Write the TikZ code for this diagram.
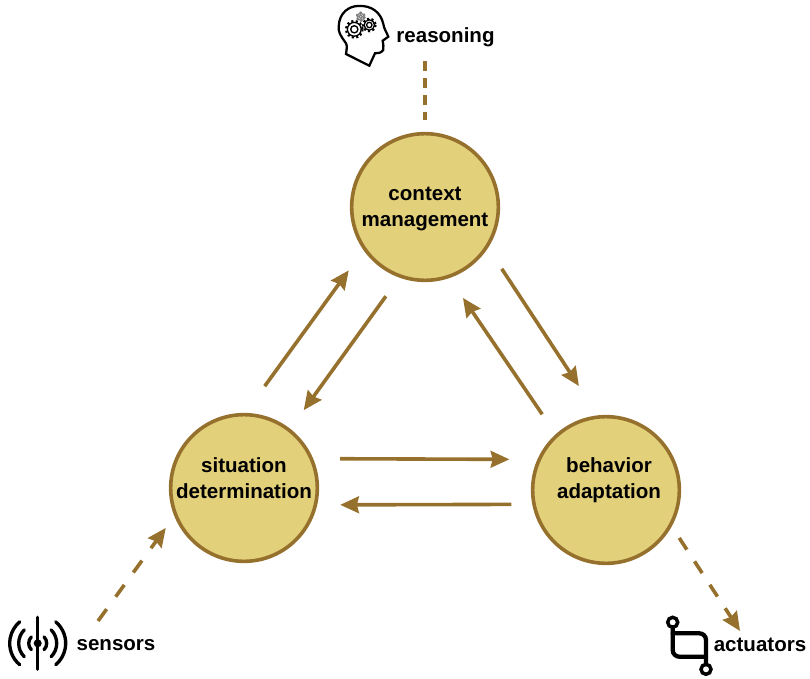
\documentclass[tikz,border=0pt]{standalone}
\usepackage{fontspec}
\setmainfont{Liberation Sans}
\usetikzlibrary{arrows.meta}
\definecolor{circlefill}{RGB}{227,208,122}
\definecolor{bronze}{RGB}{150,113,45}
\begin{document}
\begin{tikzpicture}[x=0.75pt,y=-0.75pt,
	every node/.style={font=\fontsize{15.4}{19.5}\selectfont\bfseries,text=black,align=center},
	module/.style={circle,draw=bronze,fill=circlefill,line width=2.7pt,minimum size=110pt,inner sep=0pt},
	flow/.style={draw=bronze,line width=2.7pt,-{Stealth[length=14pt,width=12.5pt,inset=1.5pt]}},
	dashflow/.style={flow,dash pattern=on 11pt off 11.5pt},
	icon/.style={line width=1.7pt,black,line cap=round}]
	\useasboundingbox (0,0) rectangle (810,678);
	
	\node[module,label={[yshift=-1.5pt]center:context\\management}] (context) at (425,207) {};
	\node[module,label={[yshift=7.5pt]center:situation\\determination}] (situation) at (244,488) {};
	\node[module,label={[xshift=2.25pt,yshift=7.5pt]center:behavior\\adaptation}] (behavior) at (606,490) {};
	
	\node (reasoning) at (445.5,37) {reasoning};
	\node (sensors) at (116,645) {sensors};
	\node (actuators) at (760,645) {actuators};
	\coordinate (reasoningEnd) at (425,61);
	\coordinate (sensorsEnd) at (98,621);
	\coordinate (actuatorsEnd) at (740,631);
	
	\draw[flow] (situation.89) -- (context.215.6) [shorten <=24.75pt,shorten >=18.75pt];
	\draw[flow] (context.250.1) -- (situation.52.6) [shorten <=17.25pt,shorten >=17.25pt];
	\draw[flow] (context.327.7) -- (behavior.96) [shorten <=18.75pt,shorten >=26.25pt];
	\draw[flow] (behavior.132.7) -- (context.289.8) [shorten <=18pt,shorten >=18pt];
	\draw[flow] (situation.23.2) -- (behavior.156.2) [shorten <=20.25pt,shorten >=21pt];
	\draw[flow] (behavior.191.52) -- (situation.347.7) [shorten <=15.75pt,shorten >=17.25pt];
	
	\draw[dashflow,-,line width=3pt,dash pattern=on 7.2pt off 5.6pt] (reasoningEnd) -- (context.north) [shorten >=9pt];
	\draw[dashflow] (sensorsEnd) -- (situation.202.2) [shorten >=10.9pt];
	\draw[dashflow,dash pattern=on 10.5pt off 10.5pt] (behavior.331.5) -- (actuatorsEnd) [shorten <=10.3pt];
	
	% head
	\draw[icon] (369.3,65.7) -- (346,54) .. controls (347,48) and (347,45) .. (346,43.3)
		.. controls (340,35) and (338,31) .. (338.7,26.7)
		.. controls (339,12) and (350,6) .. (358,6)
		.. controls (372,5) and (381,13) .. (383.3,24)
		.. controls (384,29) and (387,33) .. (388.3,36.7)
		-- (382.7,40.7) .. controls (383,44) and (384,47) .. (383.3,50)
		.. controls (381,53) and (378,53.5) .. (375,53.3) -- cycle;
	\foreach \gx/\gy/\gr/\gc in {354.3/29.3/6/black,369.3/25/4.5/black,360.7/16.7/3/gray}{
		\draw[\gc,line width=1pt] (\gx,\gy) circle[radius=\gr*0.6];
		\draw[\gc,line width=1pt] (\gx,\gy) circle[radius=\gr*1.15];
		\draw[\gc,line width=1.5pt,dash pattern=on 1.6pt off 1.8pt] (\gx,\gy) circle[radius=\gr*1.4];
	}
	
	% antenna
	\draw[icon,line width=2.5pt] (37.7,617.3) -- (37.7,669.3);
	\fill (37.7,643.3) circle[radius=4];
	\foreach \ar/\as in {9/45,19/45,28/50}{
		\draw[icon,line width=2.5pt] (37.7,643.3) ++(-\as:\ar) arc[start angle=-\as,end angle=\as,radius=\ar];
		\draw[icon,line width=2.5pt] (37.7,643.3) ++(180-\as:\ar) arc[start angle=180-\as,end angle=180+\as,radius=\ar];
	}
	
	% actuator
	\draw[icon,line width=3.2pt,rounded corners=5pt] (672.7,627.3) -- (672.7,656.7) -- (706,656.7);
	\draw[icon,line width=3.2pt,rounded corners=5pt] (672.7,633.3) -- (706,633.3) -- (706,664.3);
	\draw[icon,line width=2.6pt] (672.7,622.3) circle[radius=5];
	\draw[icon,line width=2.6pt] (706,669.3) circle[radius=5];
\end{tikzpicture}
\end{document}
